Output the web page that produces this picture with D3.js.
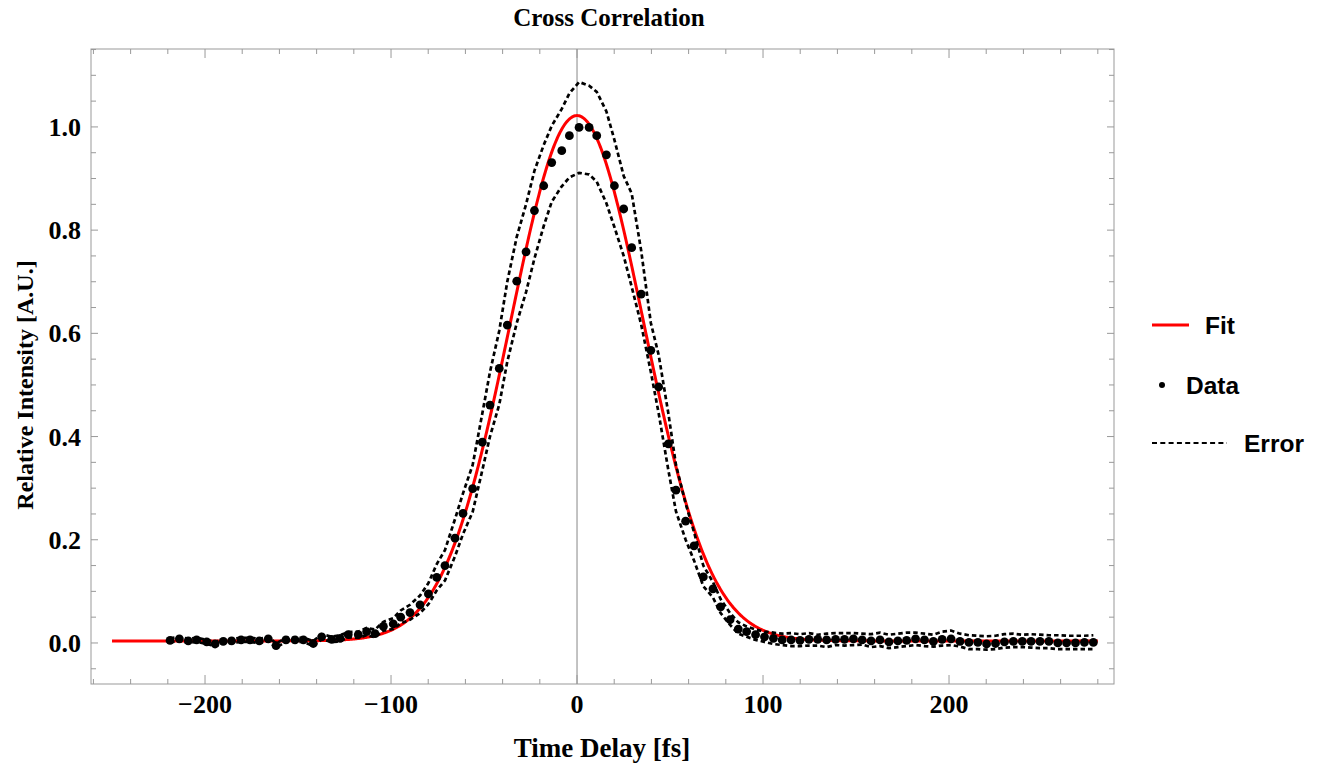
<!DOCTYPE html>
<html>

<head>
  <meta charset="utf-8" />
  <title>Cross Correlation</title>
  <style>
    body {
      margin: 0;
      background: #fff;
    }

    svg text {
      font-family: "Liberation Serif", "Times New Roman", serif;
      font-weight: bold;
      fill: #000;
    }

    .legend text {
      font-family: "Liberation Sans", Arial, sans-serif;
    }
  </style>
  <script src="https://cdnjs.cloudflare.com/ajax/libs/d3/7.8.5/d3.min.js"></script>
</head>

<body>
  <div id="chartArea"></div>
  <script>
    // time delay of every sample [fs]
    var delays = [
      -218.8, -213.8, -209.0, -204.5, -199.1, -194.6, -190.2, -185.7, -180.6, -175.8,
      -170.8, -166.0, -161.8, -156.5, -151.6, -147.1, -141.8, -137.3, -131.9, -127.4,
      -123.0, -117.6, -113.1, -108.6, -104.1, -98.8, -94.8, -89.8, -84.4, -79.9,
      -75.4, -71.0, -65.6, -61.3, -56.1, -50.9, -46.8, -41.8, -37.5, -32.4,
      -27.4, -22.9, -17.9, -13.6, -8.2, -4.1, 1.1, 6.5, 10.6, 15.8,
      20.1, 25.1, 29.4, 34.5, 39.7, 43.9, 49.1, 53.2, 58.4, 62.9,
      67.9, 73.1, 77.2, 82.3, 86.7, 91.2, 96.0, 100.8, 105.6, 110.3,
      115.1, 119.9, 124.7, 129.4, 134.2, 139.0, 143.8, 148.6, 153.3, 158.1,
      162.9, 167.7, 172.5, 177.2, 182.0, 186.8, 191.6, 196.3, 201.1, 205.9,
      210.7, 215.5, 220.2, 225.0, 229.8, 234.6, 239.4, 244.1, 248.9, 253.7,
      258.5, 263.2, 268.0, 272.8, 277.6
    ];
    // measured relative intensity
    var intensity = [
      0.005, 0.008, 0.004, 0.006, 0.002, -0.002, 0.003, 0.004, 0.006, 0.006,
      0.004, 0.008, -0.005, 0.006, 0.006, 0.006, -0.001, 0.012, 0.007, 0.009,
      0.016, 0.016, 0.022, 0.018, 0.032, 0.037, 0.050, 0.059, 0.074, 0.095,
      0.127, 0.150, 0.203, 0.251, 0.299, 0.389, 0.461, 0.532, 0.616, 0.701,
      0.758, 0.838, 0.886, 0.931, 0.954, 0.983, 0.999, 0.999, 0.983, 0.946,
      0.886, 0.841, 0.766, 0.676, 0.567, 0.496, 0.386, 0.296, 0.236, 0.188,
      0.128, 0.105, 0.070, 0.045, 0.027, 0.022, 0.016, 0.012, 0.009, 0.006,
      0.006, 0.005, 0.007, 0.007, 0.006, 0.007, 0.007, 0.008, 0.006, 0.004,
      0.006, 0.002, 0.004, 0.005, 0.008, 0.006, 0.003, 0.007, 0.008, 0.003,
      0.001, 0.001, -0.002, -0.001, 0.002, 0.003, 0.003, 0.003, 0.003, 0.003,
      0.000, 0.000, 0.000, 0.001, 0.001
    ];
    // upper error bound
    var errorHigh = [
      0.009, 0.012, 0.008, 0.010, 0.006, 0.002, 0.007, 0.008, 0.010, 0.010,
      0.008, 0.012, -0.001, 0.010, 0.010, 0.010, 0.004, 0.017, 0.012, 0.015,
      0.021, 0.022, 0.029, 0.026, 0.041, 0.048, 0.063, 0.074, 0.092, 0.116,
      0.153, 0.180, 0.240, 0.290, 0.345, 0.445, 0.525, 0.605, 0.700, 0.787,
      0.850, 0.915, 0.965, 1.002, 1.035, 1.065, 1.087, 1.080, 1.068, 1.030,
      0.975, 0.905, 0.871, 0.760, 0.620, 0.558, 0.445, 0.345, 0.270, 0.215,
      0.150, 0.118, 0.085, 0.058, 0.040, 0.032, 0.026, 0.022, 0.020, 0.018,
      0.019, 0.017, 0.019, 0.016, 0.018, 0.019, 0.019, 0.019, 0.018, 0.017,
      0.020, 0.016, 0.018, 0.020, 0.020, 0.018, 0.016, 0.022, 0.024, 0.018,
      0.015, 0.014, 0.013, 0.014, 0.017, 0.018, 0.016, 0.017, 0.016, 0.015,
      0.015, 0.014, 0.014, 0.014, 0.015
    ];
    // lower error bound
    var errorLow = [
      0.001, 0.004, 0.000, 0.002, -0.002, -0.006, -0.001, 0.000, 0.002, 0.002,
      0.000, 0.004, -0.009, 0.002, 0.002, 0.002, -0.006, 0.007, 0.002, 0.003,
      0.011, 0.010, 0.015, 0.011, 0.024, 0.027, 0.038, 0.045, 0.058, 0.075,
      0.102, 0.121, 0.168, 0.211, 0.254, 0.335, 0.400, 0.462, 0.545, 0.620,
      0.680, 0.745, 0.808, 0.855, 0.885, 0.902, 0.911, 0.908, 0.894, 0.852,
      0.806, 0.750, 0.690, 0.617, 0.525, 0.445, 0.335, 0.255, 0.200, 0.160,
      0.110, 0.088, 0.058, 0.035, 0.018, 0.012, 0.006, 0.002, -0.002, -0.004,
      -0.006, -0.006, -0.005, -0.005, -0.008, -0.004, -0.005, -0.004, -0.003, -0.008,
      -0.006, -0.010, -0.008, -0.006, -0.004, -0.006, -0.007, -0.005, -0.004, -0.007,
      -0.012, -0.012, -0.013, -0.012, -0.009, -0.008, -0.008, -0.009, -0.010, -0.010,
      -0.012, -0.012, -0.012, -0.012, -0.012
    ];

    // gaussian fit parameters
    var fitAmplitude = 1.018,
      fitCenter = 0,
      fitSigma = 35.8,
      fitOffset = 0.004,
      fitRange = [-250, 280];

    var xTickValues = [-200, -100, 0, 100, 200];
    var yTickValues = [0, 0.2, 0.4, 0.6, 0.8, 1.0];
    var legendLabels = ['Fit', 'Data', 'Error'];

    var w = 1321,
      h = 767;
    var frameLeft = 91,
      frameRight = 1114,
      frameTop = 49,
      frameBottom = 684;
    var frameColor = '#999';

    var xScale = d3.scaleLinear()
      .domain([-261.3, 288.7])
      .range([frameLeft, frameRight]);

    var yScale = d3.scaleLinear()
      .domain([-0.0795, 1.151])
      .range([frameBottom, frameTop]);

    var svg = d3.select('#chartArea').append('svg')
      .attr('width', w)
      .attr('height', h);

    var points = delays.map(function (d, i) {
      return { x: d, y: intensity[i], hi: errorHigh[i], lo: errorLow[i] };
    });

    var plot = svg.append('g');

    // axis line at zero delay
    plot.append('line')
      .attr('x1', xScale(0)).attr('x2', xScale(0))
      .attr('y1', frameTop).attr('y2', frameBottom)
      .attr('stroke', '#888')
      .attr('stroke-width', 1);

    // fit curve
    var fitX = d3.range(fitRange[0], fitRange[1] + 0.5, 0.5);
    var fitLine = d3.line()
      .x(d => xScale(d))
      .y(d => yScale(fitAmplitude * Math.exp(-Math.pow(d - fitCenter, 2) / (2 * fitSigma * fitSigma)) + fitOffset));

    plot.append('path')
      .datum(fitX)
      .attr('d', fitLine)
      .attr('fill', 'none')
      .attr('stroke', '#f00')
      .attr('stroke-width', 3);

    // error bands
    ['hi', 'lo'].forEach(function (key) {
      plot.append('path')
        .datum(points)
        .attr('d', d3.line().x(d => xScale(d.x)).y(d => yScale(d[key])))
        .attr('fill', 'none')
        .attr('stroke', '#000')
        .attr('stroke-width', 2.7)
        .attr('stroke-dasharray', '4.5,3');
    });

    // data points
    plot.selectAll('circle.pt')
      .data(points)
      .enter()
      .append('circle')
      .attr('class', 'pt')
      .attr('cx', d => xScale(d.x))
      .attr('cy', d => yScale(d.y))
      .attr('r', 4.4)
      .attr('fill', '#000');

    // frame
    svg.append('rect')
      .attr('x', frameLeft).attr('y', frameTop)
      .attr('width', frameRight - frameLeft).attr('height', frameBottom - frameTop)
      .attr('fill', 'none')
      .attr('stroke', frameColor)
      .attr('stroke-width', 1);

    // ticks on all four sides, pointing inward
    var xMinor = d3.range(-260, 281, 20);
    var yMinor = d3.range(-0.05, 1.151, 0.05);
    var isMajorX = v => Math.abs(v % 100) < 1e-6;
    var isMajorY = v => Math.abs(Math.round(v * 100) % 20) < 1e-6;

    var ticks = svg.append('g').attr('stroke', frameColor).attr('stroke-width', 1);
    xMinor.forEach(function (v) {
      var len = isMajorX(v) ? 9 : 5;
      var x = xScale(v);
      ticks.append('line').attr('x1', x).attr('x2', x).attr('y1', frameBottom).attr('y2', frameBottom - len);
      ticks.append('line').attr('x1', x).attr('x2', x).attr('y1', frameTop).attr('y2', frameTop + len);
    });
    yMinor.forEach(function (v) {
      var len = isMajorY(v) ? 7 : 5;
      var y = yScale(v);
      ticks.append('line').attr('x1', frameLeft).attr('x2', frameLeft + len).attr('y1', y).attr('y2', y);
      ticks.append('line').attr('x1', frameRight).attr('x2', frameRight - len).attr('y1', y).attr('y2', y);
    });

    // tick labels
    svg.selectAll('text.xt')
      .data(xTickValues)
      .enter()
      .append('text')
      .attr('class', 'xt')
      .attr('x', d => xScale(d))
      .attr('y', 704)
      .attr('dy', '0.35em')
      .attr('text-anchor', 'middle')
      .style('font-size', '26px')
      .text(d => d < 0 ? '\u2212' + Math.abs(d) : d);

    svg.selectAll('text.yt')
      .data(yTickValues)
      .enter()
      .append('text')
      .attr('class', 'yt')
      .attr('x', 81)
      .attr('y', d => yScale(d))
      .attr('dy', '0.35em')
      .attr('text-anchor', 'end')
      .style('font-size', '26px')
      .text(d => d.toFixed(1));

    // titles
    svg.append('text')
      .attr('x', 609).attr('y', 17)
      .attr('dy', '0.35em')
      .attr('text-anchor', 'middle')
      .style('font-size', '25px')
      .text('Cross Correlation');

    svg.append('text')
      .attr('x', 602).attr('y', 748)
      .attr('dy', '0.35em')
      .attr('text-anchor', 'middle')
      .style('font-size', '27px')
      .text('Time Delay [fs]');

    svg.append('text')
      .attr('transform', 'translate(25,385) rotate(-90)')
      .attr('dy', '0.35em')
      .attr('text-anchor', 'middle')
      .style('font-size', '24px')
      .text('Relative Intensity [A.U.]');

    // legend
    var legend = svg.append('g').attr('class', 'legend');
    legend.append('line')
      .attr('x1', 1152).attr('x2', 1189).attr('y1', 325).attr('y2', 325)
      .attr('stroke', '#f00').attr('stroke-width', 3);
    legend.append('circle')
      .attr('cx', 1162).attr('cy', 385).attr('r', 3)
      .attr('fill', '#000');
    legend.append('line')
      .attr('x1', 1152).attr('x2', 1227).attr('y1', 443).attr('y2', 443)
      .attr('stroke', '#000').attr('stroke-width', 2)
      .attr('stroke-dasharray', '5,3.3');

    legend.selectAll('text')
      .data(legendLabels)
      .enter()
      .append('text')
      .attr('x', (d, i) => [1205, 1186, 1244][i])
      .attr('y', (d, i) => [325, 385, 443][i])
      .attr('dy', '0.36em')
      .style('font-size', '24.5px')
      .text(d => d);
  </script>
</body>

</html>
